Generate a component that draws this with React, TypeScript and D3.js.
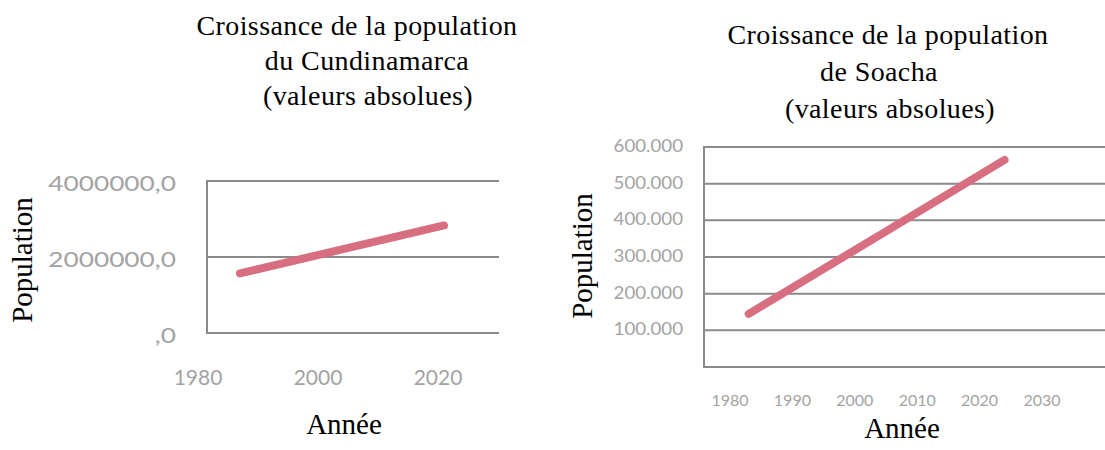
import { useEffect, useRef } from "react";
import * as d3 from "d3";

// Cundinamarca (left chart)
const cundiYears = [1987, 2004, 2021];
const cundiPop = [1570000, 2200000, 2830000];
const cundiYTicks = [0, 2000000, 4000000];
const cundiXTicks = [1980, 2000, 2020];
const cundiTitle = ["Croissance de la population", "du Cundinamarca", "(valeurs absolues)"];

// Soacha (right chart)
const soachaYears = [1983, 2005, 2024];
const soachaPop = [145000, 370000, 565000];
const soachaYTicks = [100000, 200000, 300000, 400000, 500000, 600000];
const soachaXTicks = [1980, 1990, 2000, 2010, 2020, 2030];
const soachaTitle = ["Croissance de la population", "de Soacha", "(valeurs absolues)"];

const LINE = "#d86f80";
const GRID = "#8a8a8a";
const TICK = "#a3a3a3";
const SERIF = "'Liberation Serif', 'Times New Roman', serif";
const SANS = "Lato, 'Open Sans', sans-serif";

// "4000000,0" style
const fmtComma = (d: number) => (d === 0 ? ",0" : `${d},0`);
// "600.000" style
const fmtDot = (d: number) => d3.format(",")(d).replace(/,/g, ".");

export default function App() {
  const ref = useRef<SVGSVGElement>(null);

  useEffect(() => {
    if (!ref.current) return;
    const svg = d3.select(ref.current);
    svg.selectAll("*").remove();

    const title = (g: any, lines: string[], xs: number[], y0: number, step: number) => {
      lines.forEach((t, i) => {
        g.append("text")
          .attr("x", xs[i])
          .attr("y", y0 + i * step)
          .attr("text-anchor", "middle")
          .attr("font-family", SERIF)
          .attr("font-size", 28)
          .attr("letter-spacing", 0.4)
          .text(t);
      });
    };

    // ---------- left chart ----------
    {
      const left = 207, right = 499;
      const x = d3.scaleLinear().domain([1980, 2020]).range([198, 438]);
      const y = d3.scaleLinear().domain([0, 4000000]).range([333, 181]);
      const g = svg.append("g");

      g.selectAll(".grid")
        .data(cundiYTicks)
        .join("line")
        .attr("x1", left)
        .attr("x2", right)
        .attr("y1", (d) => y(d))
        .attr("y2", (d) => y(d))
        .attr("stroke", GRID)
        .attr("stroke-width", 2);
      g.append("line")
        .attr("x1", left)
        .attr("x2", left)
        .attr("y1", y(4000000) - 1)
        .attr("y2", y(0) + 1)
        .attr("stroke", GRID)
        .attr("stroke-width", 2);

      // wide tick labels, stretched horizontally like the original
      g.selectAll(".ylab")
        .data(cundiYTicks)
        .join("text")
        .attr("transform", (d) => `translate(176,${y(d) + 10}) scale(1.25,1)`)
        .attr("text-anchor", "end")
        .attr("fill", TICK)
        .attr("font-family", SANS)
        .attr("font-size", 21)
        .text(fmtComma);

      g.selectAll(".xlab")
        .data(cundiXTicks)
        .join("text")
        .attr("x", (d) => x(d))
        .attr("y", 385)
        .attr("text-anchor", "middle")
        .attr("fill", TICK)
        .attr("font-family", SANS)
        .attr("font-size", 21)
        .text((d) => d);

      const line = d3
        .line<number>()
        .x((_, i) => x(cundiYears[i]))
        .y((d) => y(d));
      g.append("path")
        .attr("d", line(cundiPop))
        .attr("fill", "none")
        .attr("stroke", LINE)
        .attr("stroke-width", 8)
        .attr("stroke-linecap", "round");

      title(g, cundiTitle, [357, 367, 368], 35, 35);

      g.append("text")
        .attr("transform", "translate(32,260) rotate(-90)")
        .attr("text-anchor", "middle")
        .attr("font-family", SERIF)
        .attr("font-size", 29)
        .text("Population");
      g.append("text")
        .attr("x", 344)
        .attr("y", 434)
        .attr("text-anchor", "middle")
        .attr("font-family", SERIF)
        .attr("font-size", 29)
        .text("Année");
    }

    // ---------- right chart ----------
    {
      const left = 704, right = 1105;
      const x = d3.scaleLinear().domain([1980, 2030]).range([730, 1042]);
      const y = d3.scaleLinear().domain([0, 600000]).range([367, 147]);
      const g = svg.append("g");

      g.selectAll(".grid")
        .data([0, ...soachaYTicks])
        .join("line")
        .attr("x1", left)
        .attr("x2", right)
        .attr("y1", (d) => y(d))
        .attr("y2", (d) => y(d))
        .attr("stroke", GRID)
        .attr("stroke-width", 2);
      g.append("line")
        .attr("x1", left)
        .attr("x2", left)
        .attr("y1", y(600000) - 1)
        .attr("y2", y(0) + 1)
        .attr("stroke", GRID)
        .attr("stroke-width", 2);

      g.selectAll(".ylab")
        .data(soachaYTicks)
        .join("text")
        .attr("transform", (d) => `translate(683,${y(d) + 5}) scale(1.1,1)`)
        .attr("text-anchor", "end")
        .attr("fill", TICK)
        .attr("font-family", SANS)
        .attr("font-size", 17)
        .text(fmtDot);

      g.selectAll(".xlab")
        .data(soachaXTicks)
        .join("text")
        .attr("x", (d) => x(d))
        .attr("y", 406)
        .attr("text-anchor", "middle")
        .attr("fill", TICK)
        .attr("font-family", SANS)
        .attr("font-size", 16)
        .text((d) => d);

      const line = d3
        .line<number>()
        .x((_, i) => x(soachaYears[i]))
        .y((d) => y(d));
      g.append("path")
        .attr("d", line(soachaPop))
        .attr("fill", "none")
        .attr("stroke", LINE)
        .attr("stroke-width", 8)
        .attr("stroke-linecap", "round");

      title(g, soachaTitle, [888, 879, 890], 44, 37);

      g.append("text")
        .attr("transform", "translate(592,256) rotate(-90)")
        .attr("text-anchor", "middle")
        .attr("font-family", SERIF)
        .attr("font-size", 29)
        .text("Population");
      g.append("text")
        .attr("x", 902)
        .attr("y", 438)
        .attr("text-anchor", "middle")
        .attr("font-family", SERIF)
        .attr("font-size", 29)
        .text("Année");
    }
  }, []);

  return (
    <svg
      ref={ref}
      width={1105}
      height={450}
      style={{ position: "absolute", left: 0, top: 0, background: "#fff" }}
    />
  );
}
